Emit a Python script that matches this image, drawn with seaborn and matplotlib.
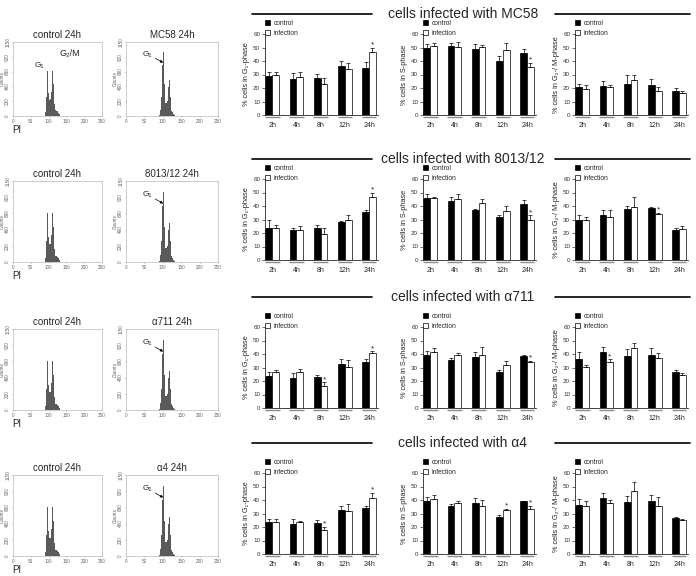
import numpy as np
import pandas as pd
import matplotlib
matplotlib.use('Agg')
import matplotlib.pyplot as plt
import seaborn as sns
from matplotlib.patches import Patch
from matplotlib.lines import Line2D

# ---- data -------------------------------------------------------------
times = ['2h', '4h', '8h', '12h', '24h']
strains = ['MC58', '8013/12', '\u03b1711', '\u03b14']

# flow cytometry histograms (PI channel vs counts)
hist_channels = [88, 90, 92, 94, 96, 98, 100, 102, 104, 106, 108, 110, 112, 114,
                 116, 118, 120, 122, 124, 126, 128, 130, 132, 134, 136]
ctrl_counts = [0, 10, 60, 300, 700, 780, 350, 250, 230, 260, 380, 700, 900, 500,
               180, 100, 90, 85, 80, 70, 50, 30, 15, 5, 0]
inf_counts = [0, 0, 20, 100, 300, 500, 800, 1000, 500, 250, 200, 200, 230, 300,
              450, 560, 300, 120, 80, 60, 40, 25, 10, 0, 0]

# rows: control mean, control sd, infection mean, infection sd
mc58_g1 = [[29, 26.5, 27.5, 36.5, 35], [3, 4.5, 3, 3.5, 4.5],
           [29.5, 28.5, 23, 34, 47], [2.5, 3.5, 4.5, 4.5, 3]]
mc58_s = [[49.5, 51, 49, 40, 46], [3, 2.5, 3.5, 4, 3],
          [51, 50.5, 50.5, 48, 35.5], [2.5, 3.5, 1.5, 5.5, 3]]
mc58_g2 = [[20.5, 21.5, 23, 22.5, 18], [2.5, 4, 6.5, 4, 2],
           [19, 20.5, 26, 17.5, 16.5], [3, 1.5, 4, 3.5, 1]]

n8013_g1 = [[24, 22.5, 24, 28.5, 35.5], [6, 1, 2, 0.5, 1.5],
            [23.5, 22.5, 19, 29.5, 47], [2.5, 3, 4.5, 3.5, 3]]
n8013_s = [[46, 43.5, 37, 32, 41.5], [3, 3.5, 1, 1, 3],
           [46, 45.5, 42, 36, 30], [0.5, 3.5, 3, 4, 3]]
n8013_g2 = [[29.5, 33.5, 38, 38.5, 22], [3.5, 3.5, 2, 0.5, 2],
            [30, 31.5, 39, 34, 23], [2, 5.5, 7.5, 1, 2]]

a711_g1 = [[23.5, 22.5, 23, 32.5, 34], [3, 3.5, 1.5, 3.5, 2],
           [27, 26.5, 16.5, 30.5, 40.5], [1.5, 2.5, 2.5, 5, 1.5]]
a711_s = [[39.5, 35.5, 38, 27, 38.5], [3, 1.5, 3.5, 1, 1],
          [41.5, 39, 39, 32, 34], [3, 2, 6.5, 3, 1]]
a711_g2 = [[36.5, 41.5, 38.5, 39.5, 26.5], [5, 4, 5, 5, 1.5],
           [30.5, 34, 44.5, 37, 24.5], [1.5, 2, 4, 3.5, 1.5]]

a4_g1 = [[23.5, 22, 23, 32.5, 34], [2.5, 4, 2, 3, 1.5],
         [23.5, 23.5, 17.5, 31.5, 41.5], [2.5, 1, 2.5, 5.5, 4]]
a4_s = [[39.5, 35.5, 38, 27.5, 39], [3, 1.5, 3.5, 1.5, 0.5],
        [40.5, 38, 35.5, 32.5, 33.5], [3.5, 1, 4.5, 1, 2]]
a4_g2 = [[36.5, 41.5, 38.5, 39.5, 26.5], [4.5, 4, 4.5, 4.5, 1],
         [35.5, 38, 46.5, 35.5, 25], [4, 2, 7, 6.5, 1]]

# significant (infection) time points, by index
stars = {
    'MC58': [[4], [4], []],
    '8013/12': [[4], [4], [3]],
    '\u03b1711': [[2, 4], [4], [1]],
    '\u03b14': [[2, 4], [3, 4], []],
}
panel_data = {
    'MC58': [mc58_g1, mc58_s, mc58_g2],
    '8013/12': [n8013_g1, n8013_s, n8013_g2],
    '\u03b1711': [a711_g1, a711_s, a711_g2],
    '\u03b14': [a4_g1, a4_s, a4_g2],
}
ylabels = ['% cells in G\u2081-phase', '% cells in S-phase', '% cells in G\u2082-/ M-phase']

# ---- layout -----------------------------------------------------------
sns.set_style('ticks')
plt.rcParams['font.family'] = ['Liberation Sans', 'DejaVu Sans']

W, H = 696, 576
fig = plt.figure(figsize=(W / 100, H / 100), dpi=100)


def px_axes(left, top, w, h):
    return fig.add_axes([left / W, 1 - (top + h) / H, w / W, h / H])


line_y = [14, 159, 297, 443]
ax_top = [34, 179, 327, 473]
bar_left = [265, 423, 575]
bar_w, bar_h = 113, 81


def hist_panel(ax, counts, title):
    ax.fill_between(hist_channels, counts, step='mid', color='#5a5a5a', lw=0)
    ax.set_xlim(0, 250)
    ax.set_ylim(0, 1150)
    ax.set_xticks([0, 50, 100, 150, 200, 250])
    ax.set_yticks([0, 230, 460, 690, 920, 1150])
    ax.tick_params(labelsize=3.3, length=1, width=0.4, pad=1, colors='#666666')
    for lab in ax.get_yticklabels():
        lab.set_rotation(90)
        lab.set_va('center')
    for sp in ax.spines.values():
        sp.set_visible(True)
        sp.set_color('#c4c4c4')
        sp.set_linewidth(0.6)
    ax.set_ylabel('Counts', fontsize=3.3, labelpad=0.5, color='#555555')
    ax.set_title(title, fontsize=7, pad=3)


def bar_panel(ax, data, star_idx, ylabel):
    ctrl, ctrl_sd, inf, inf_sd = data
    df = pd.DataFrame({'time': times * 2,
                       'group': ['control'] * 5 + ['infection'] * 5,
                       'value': ctrl + inf})
    sns.barplot(data=df, x='time', y='value', hue='group', order=times,
                palette={'control': 'black', 'infection': 'white'},
                edgecolor='black', linewidth=0.5, width=0.56, errorbar=None,
                legend=False, ax=ax)
    for cont, means, sd in [(ax.containers[0], ctrl, ctrl_sd),
                            (ax.containers[1], inf, inf_sd)]:
        xs = [b.get_x() + b.get_width() / 2 for b in cont]
        ax.errorbar(xs, means, yerr=[np.zeros(len(sd)), sd], fmt='none',
                    ecolor='black', elinewidth=0.5, capsize=1.3, capthick=0.5)
    inf_x = [b.get_x() + b.get_width() / 2 for b in ax.containers[1]]
    for i in star_idx:
        ax.text(inf_x[i], inf[i] + inf_sd[i] - 0.5, '*', ha='center',
                va='bottom', fontsize=6)
    # grey underline under each time group
    for i in range(len(times)):
        ax.plot([i - 0.3, i + 0.3], [-1.8, -1.8], color='#8c8c8c', lw=1.0,
                clip_on=False, solid_capstyle='butt')
    ax.set_xlim(-0.3, 4.37)
    ax.set_ylim(0, 60)
    ax.set_yticks(range(0, 61, 10))
    ax.set_xlabel('')
    ax.set_ylabel(ylabel, fontsize=5.3, labelpad=2)
    ax.tick_params(axis='x', length=0, labelsize=5, pad=5)
    ax.tick_params(axis='y', length=2, width=0.5, labelsize=4.5, pad=1.5,
                   colors='#333333')
    sns.despine(ax=ax)
    for sp in ['left', 'bottom']:
        ax.spines[sp].set_linewidth(0.6)
    handles = [Patch(facecolor='black', edgecolor='black', lw=0.5),
               Patch(facecolor='white', edgecolor='black', lw=0.5)]
    ax.legend(handles, ['control', 'infection'], loc='lower left',
              bbox_to_anchor=(0.0, 0.96), frameon=False, fontsize=4.8,
              handlelength=0.8, handleheight=0.8, handletextpad=0.5,
              labelspacing=0.45, borderaxespad=0, borderpad=0)


for r, strain in enumerate(strains):
    top = ax_top[r]
    # histograms (rows 2-4 are a little taller than the annotated first row)
    if r == 0:
        h_top, h_h = top + 8, bar_h - 7
    else:
        h_top, h_h = top + 2, bar_h
    hx_c = px_axes(13, h_top, 89, h_h)
    hist_panel(hx_c, ctrl_counts, 'control 24h')
    hx_i = px_axes(126, h_top, 92, h_h)
    hist_panel(hx_i, inf_counts, f'{strain} 24h')
    hx_i.annotate('G\u2081', xy=(101, 830), xytext=(45, 960), fontsize=6,
                  va='center', arrowprops=dict(arrowstyle='-|>', lw=0.5,
                                               color='black', mutation_scale=4,
                                               shrinkA=0, shrinkB=0))
    if r == 0:
        hx_c.annotate('', xy=(90, 790), xytext=(107, 790),
                      arrowprops=dict(arrowstyle='|-|', lw=0.5,
                                      mutation_scale=1.5, shrinkA=0, shrinkB=0))
        hx_c.text(88, 790, 'G\u2081', fontsize=6, ha='right', va='center')
        hx_c.annotate('', xy=(107, 970), xytext=(118, 970),
                      arrowprops=dict(arrowstyle='|-|', lw=0.5,
                                      mutation_scale=1.5, shrinkA=0, shrinkB=0))
        hx_c.text(130, 970, 'G\u2082/M', fontsize=6.5, ha='left', va='center')
    fig.text(12 / W, 1 - (h_top + h_h + 14) / H, 'PI', fontsize=7,
             ha='left', va='center')

    # bar charts
    for k in range(3):
        ax = px_axes(bar_left[k], top, bar_w, bar_h)
        bar_panel(ax, panel_data[strain][k], stars[strain][k], ylabels[k])

    # section title with rules
    yy = 1 - line_y[r] / H
    fig.add_artist(Line2D([252 / W, 372 / W], [yy, yy], color='black', lw=1.2))
    fig.add_artist(Line2D([555 / W, 690 / W], [yy, yy], color='black', lw=1.2))
    fig.text(463 / W, yy, f'cells infected with {strain}', fontsize=10,
             ha='center', va='center')

fig.savefig('out.png', dpi=100)
